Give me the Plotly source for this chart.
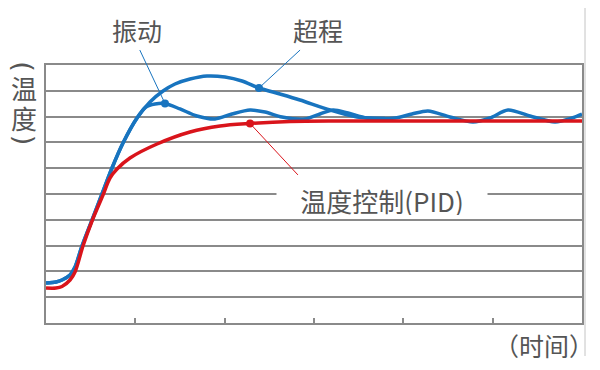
import plotly.graph_objects as go

# ---- data (x: time units 0..6, y: temperature units 0..10) ----
rise_x = [0, 0.112, 0.179, 0.269, 0.325, 0.403, 0.515, 0.627, 0.739, 0.862, 1.019]
rise_y = [1.550, 1.589, 1.667, 1.860, 2.171, 2.984, 3.992, 5.0, 6.008, 6.977, 7.946]

overshoot_x = [1.164, 1.310, 1.444, 1.612, 1.802, 2.004, 2.194, 2.384, 2.619, 2.843, 3.179, 3.481, 3.795]
overshoot_y = [8.566, 8.992, 9.264, 9.457, 9.574, 9.535, 9.380, 9.109, 8.876, 8.643, 8.256, 7.984, 7.926]

vib_x = [1.119, 1.220, 1.332, 1.500, 1.690, 1.892, 2.082, 2.284, 2.452, 2.642, 2.899, 3.067, 3.213,
         3.381, 3.593, 3.907, 4.097, 4.276, 4.523, 4.780, 4.970, 5.172, 5.418, 5.698, 5.888, 6.0]
vib_y = [8.372, 8.488, 8.508, 8.295, 8.023, 7.907, 8.101, 8.256, 8.178, 7.984, 7.907, 8.101, 8.256,
         8.140, 7.946, 7.946, 8.101, 8.217, 7.984, 7.791, 7.946, 8.256, 8.023, 7.791, 7.946, 8.101]

pid_x = [0, 0.112, 0.179, 0.269, 0.325, 0.414, 0.515, 0.638, 0.716, 0.795, 0.940, 1.243,
         1.612, 1.948, 2.284, 2.731, 3.291, 6.0]
pid_y = [1.357, 1.357, 1.415, 1.667, 1.977, 2.984, 3.953, 4.961, 5.620, 5.969, 6.395, 6.938,
         7.403, 7.636, 7.733, 7.810, 7.829, 7.829]

x_ticks = [1, 2, 3, 4, 5]
labels = {"vib": "振动", "over": "超程", "pid": "温度控制(PID)", "xt": "（时间）"}
y_label_chars = ["(", "温", "度", ")"]

# indices of callout dots on each curve
vib_dot = 2
over_dot = 7
pid_dot = 14

BLUE = "#1874bf"
RED = "#d9141b"
GRID = "#8a8a8a"
TXT = "#555555"
FONT = "Noto Sans CJK SC"
X_MAX, Y_MAX = 6, 10

over_full_x = rise_x + overshoot_x
over_full_y = rise_y + overshoot_y
vib_full_x = rise_x + vib_x
vib_full_y = rise_y + vib_y

fig = go.Figure()
fig.add_trace(go.Scatter(x=over_full_x, y=over_full_y, mode="lines",
                         line=dict(color=BLUE, width=3.5, shape="spline", smoothing=0.8),
                         hoverinfo="skip"))
fig.add_trace(go.Scatter(x=vib_full_x, y=vib_full_y, mode="lines",
                         line=dict(color=BLUE, width=3.5, shape="spline", smoothing=0.8),
                         hoverinfo="skip"))
fig.add_trace(go.Scatter(x=pid_x, y=pid_y, mode="lines",
                         line=dict(color=RED, width=3.5, shape="spline", smoothing=0.9),
                         hoverinfo="skip"))

# callout dots
fig.add_trace(go.Scatter(x=[vib_x[vib_dot], overshoot_x[over_dot]],
                         y=[vib_y[vib_dot], overshoot_y[over_dot]],
                         mode="markers", marker=dict(color=BLUE, size=8), hoverinfo="skip"))
fig.add_trace(go.Scatter(x=[pid_x[pid_dot]], y=[pid_y[pid_dot]],
                         mode="markers", marker=dict(color=RED, size=8), hoverinfo="skip"))


def leader(x0p, y0p, xd, yd, color):
    fig.add_shape(type="line", xref="paper", yref="paper",
                  x0=x0p, y0=y0p, x1=xd / X_MAX, y1=yd / Y_MAX,
                  line=dict(color=color, width=1))


leader(0.175, 1.058, vib_x[vib_dot], vib_y[vib_dot], BLUE)
leader(0.474, 1.058, overshoot_x[over_dot], overshoot_y[over_dot], BLUE)
leader(0.470, 0.574, pid_x[pid_dot], pid_y[pid_dot], RED)

# outer frame line at right edge of picture
fig.add_shape(type="line", xref="paper", yref="paper", x0=1.0056, x1=1.0056, y0=1.3, y1=-0.128,
              line=dict(color="#c4c4c4", width=1))


def label(text, xp, yp, size=25, family=FONT, **kw):
    fig.add_annotation(text=text, xref="paper", yref="paper", x=xp, y=yp,
                       xanchor="center", yanchor="middle", showarrow=False,
                       font=dict(size=size, color=TXT, family=family), **kw)


label(labels["vib"], 0.170, 1.136)
label(labels["over"], 0.507, 1.136)
label(labels["pid"], 0.627, 0.477, size=26, bgcolor="white", width=208, height=30)
label(labels["xt"], 0.929, -0.085)

# vertical y-axis title: rotated parentheses around upright characters
y_pos = [0.995, 0.911, 0.798, 0.710]
y_rot = [90, 0, 0, 90]
y_fam = ["DejaVu Sans", FONT, FONT, "DejaVu Sans"]
y_size = [27, 26, 26, 27]
for ch, yp, rot, fam, sz in zip(y_label_chars, y_pos, y_rot, y_fam, y_size):
    label(ch, -0.041, yp, size=sz, family=fam, textangle=rot)

fig.update_xaxes(range=[0, X_MAX], tickvals=x_ticks, showticklabels=False,
                 ticks="inside", ticklen=5, tickwidth=1.5, tickcolor=GRID,
                 showgrid=False, zeroline=False, showline=True, linecolor=GRID,
                 linewidth=1.6, mirror=True)
fig.update_yaxes(range=[0, Y_MAX], dtick=1, showticklabels=False, ticks="",
                 showgrid=True, gridcolor=GRID, gridwidth=1.6, zeroline=False,
                 showline=True, linecolor=GRID, linewidth=1.6, mirror=True)

# page body has an 8px default margin: compensate so plot area sits at x 46..582, y 65..323
fig.update_layout(width=592, height=362, margin=dict(l=38, r=18, t=57, b=47),
                  paper_bgcolor="white", plot_bgcolor="white", showlegend=False,
                  font=dict(family=FONT))

fig.write_html("out.html")
